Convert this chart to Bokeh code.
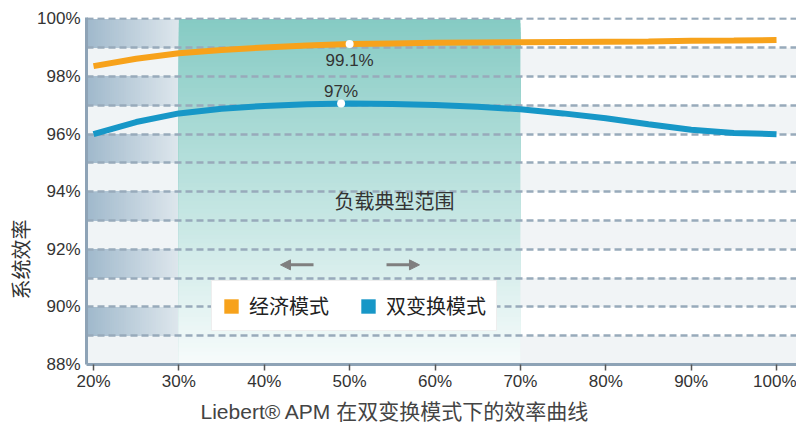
from bokeh.plotting import figure
from bokeh.models import (Range1d, FixedTicker, Legend, LegendItem, Arrow,
                          NormalHead, Title, ColumnDataSource)
from bokeh.core.properties import value
from bokeh.embed import file_html
from bokeh.resources import INLINE

# ---------------- data ----------------
load_pct = [20, 25, 30, 35, 40, 45, 50, 55, 60, 65, 70, 75, 80, 85, 90, 95, 100]
eco_eff = [98.36, 98.62, 98.81, 98.92, 99.01, 99.08, 99.13, 99.15, 99.17,
           99.18, 99.19, 99.20, 99.21, 99.22, 99.24, 99.25, 99.27]
dc_eff = [96.00, 96.42, 96.72, 96.88, 96.98, 97.04, 97.06, 97.05, 97.01,
          96.95, 96.86, 96.72, 96.55, 96.34, 96.15, 96.04, 96.00]

mark_x = [50, 49]
mark_y = [99.13, 97.06]
mark_text = ["99.1%", "97%"]

x_ticks = [20, 30, 40, 50, 60, 70, 80, 90, 100]
y_ticks = [88, 90, 92, 94, 96, 98, 100]
grid_levels = list(range(89, 101))
typical_range = [30, 70]

series_names = ["经济模式", "双变换模式"]
range_label = "负载典型范围"
y_title = "系统效率"
chart_title = "Liebert® APM 在双变换模式下的效率曲线"

ORANGE = "#f7a21b"
BLUE = "#1797c7"
CJK = "Noto Sans CJK SC"
NUM = "Liberation Sans"
MIX = f"{NUM}, {CJK}"

# ---------------- figure ----------------
X0, X1 = 19.18, 102.34
Y0, Y1 = 88, 100.05
p = figure(width=796, height=427, output_backend="svg", toolbar_location=None,
           x_range=Range1d(X0, X1), y_range=Range1d(Y0, Y1),
           min_border_left=86, min_border_right=0, min_border_top=17,
           min_border_bottom=62)
p.title.visible = False
p.outline_line_color = None
p.background_fill_color = "white"
p.border_fill_color = "white"


def hexmix(c1, c2, t):
    a = [int(c1[i:i + 2], 16) for i in (1, 3, 5)]
    b = [int(c2[i:i + 2], 16) for i in (1, 3, 5)]
    return "#%02x%02x%02x" % tuple(round(a[k] + (b[k] - a[k]) * t) for k in range(3))


# left zone: horizontal gradient bands alternating with light bands
n = 40
lq = dict(left=[], right=[], top=[], bottom=[], color=[])
lo, hi = X0, typical_range[0]
for b in range(Y0, 100, 2):
    lq["left"].append(lo)
    lq["right"].append(hi)
    lq["bottom"].append(b)
    lq["top"].append(b + 1)
    lq["color"].append("#f0f4f6")
for b in range(Y0 + 1, 100, 2):
    for i in range(n):
        lq["left"].append(lo + (hi - lo) * i / n)
        lq["right"].append(hi)
        lq["bottom"].append(b)
        lq["top"].append(b + 1)
        lq["color"].append(hexmix("#a0b9cc", "#dde6ec", i / (n - 1)))
p.quad(source=ColumnDataSource(lq), left="left", right="right", top="top",
       bottom="bottom", fill_color="color", line_color=None, level="image")

# typical-range zone: vertical teal gradient
m = 80
tq = dict(left=[], right=[], top=[], bottom=[], color=[])
for i in range(m):
    tq["left"].append(typical_range[0])
    tq["right"].append(typical_range[1])
    tq["top"].append(100 - 12 * i / m)
    tq["bottom"].append(Y0)
    tq["color"].append(hexmix("#86cbc4", "#f6fbfb", i / (m - 1)))
p.quad(source=ColumnDataSource(tq), left="left", right="right", top="top",
       bottom="bottom", fill_color="color", line_color=None, level="image")

# right zone: light bands
rq = dict(left=[], right=[], top=[], bottom=[])
for b in range(Y0, 100, 2):
    rq["left"].append(typical_range[1])
    rq["right"].append(X1)
    rq["bottom"].append(b)
    rq["top"].append(b + 1)
p.quad(source=ColumnDataSource(rq), left="left", right="right", top="top",
       bottom="bottom", fill_color="#f1f4f6", line_color=None, level="image")

# grid (dashed, every 1%)
p.xgrid.visible = False
p.ygrid.ticker = FixedTicker(ticks=grid_levels)
p.ygrid.grid_line_color = "#98aabb"
p.ygrid.grid_line_width = 2.5
p.ygrid.grid_line_dash = "7 4"

# curves
p.line(load_pct, eco_eff, color=ORANGE, line_width=6)
p.line(load_pct, dc_eff, color=BLUE, line_width=6)

# marked points
p.scatter(mark_x, mark_y, size=8, fill_color="white", line_color=None)
msrc = ColumnDataSource(dict(x=mark_x, y=mark_y, t=mark_text, dy=[17, -12]))
p.text(x="x", y="y", text="t", y_offset="dy", source=msrc,
       text_align="center", text_baseline="middle", text_font=value(NUM),
       text_font_size="17px", text_color="#333333")

# typical range label and arrows
p.text(x=[55.26], y=[93.68], text=[range_label], text_align="center",
       text_baseline="middle", text_font=value(CJK), text_font_size="20px",
       text_color="#333333")
for xs, xe in [(45.77, 41.9), (54.32, 58.18)]:
    p.add_layout(Arrow(x_start=xs, y_start=91.46, x_end=xe, y_end=91.46,
                       line_color="#7f7f7f", line_width=3,
                       end=NormalHead(size=10, fill_color="#7f7f7f",
                                      line_color="#7f7f7f", line_width=1)))

# legend with square swatches (swatch renderers sit outside the visible range)
r_eco = p.quad(left=[0], right=[1], top=[0], bottom=[-1], fill_color=ORANGE, line_color=None)
r_dc = p.quad(left=[0], right=[1], top=[0], bottom=[-1], fill_color=BLUE, line_color=None)
legend = Legend(items=[LegendItem(label=series_names[0], renderers=[r_eco]),
                       LegendItem(label=series_names[1], renderers=[r_dc])],
                location=(125, 33), orientation="horizontal",
                glyph_width=18, glyph_height=18, label_standoff=9,
                spacing=30, padding=10, margin=0,
                label_text_font=MIX, label_text_font_size="20px",
                label_text_color="#222222", label_text_baseline="middle",
                border_line_color="#dddddd", border_line_width=1.5,
                background_fill_color="white", background_fill_alpha=1.0)
p.add_layout(legend, "center")

# axes
p.xaxis.ticker = FixedTicker(ticks=x_ticks)
p.xaxis.major_label_overrides = {t: f"{t}%" for t in x_ticks}
p.xaxis.major_label_text_font = NUM
p.xaxis.major_label_text_font_size = "17px"
p.xaxis.major_label_text_color = "#333333"
p.xaxis.major_tick_in = 0
p.xaxis.major_tick_out = 6
p.xaxis.major_tick_line_color = "#555555"
p.xaxis.major_tick_line_width = 1.5
p.xaxis.minor_tick_line_color = None
p.xaxis.axis_line_color = "#8ea3b6"
p.xaxis.axis_line_width = 3
p.xaxis.major_label_standoff = 1

p.yaxis.ticker = FixedTicker(ticks=y_ticks)
p.yaxis.major_label_overrides = {t: f"{t}%" for t in y_ticks}
p.yaxis.major_label_text_font = NUM
p.yaxis.major_label_text_font_size = "17px"
p.yaxis.major_label_text_color = "#333333"
p.yaxis.major_tick_in = 0
p.yaxis.major_tick_out = 0
p.yaxis.major_tick_line_color = None
p.yaxis.minor_tick_line_color = None
p.yaxis.axis_line_color = "#8ea3b6"
p.yaxis.axis_line_width = 3
p.yaxis.major_label_standoff = 6

# y-axis title (placed low along the axis, as in the original)
ytitle = Title(text=y_title, align="left", offset=65, standoff=4,
               text_font=MIX, text_font_size="20px",
               text_font_style="normal", text_color="#333333")
p.add_layout(ytitle, "left")

title = Title(text=chart_title, align="left", offset=114, standoff=9,
              text_font=MIX, text_font_size="21px",
              text_font_style="normal", text_color="#444444")
p.add_layout(title, "below")

open("out.html", "w").write(file_html(p, INLINE))
